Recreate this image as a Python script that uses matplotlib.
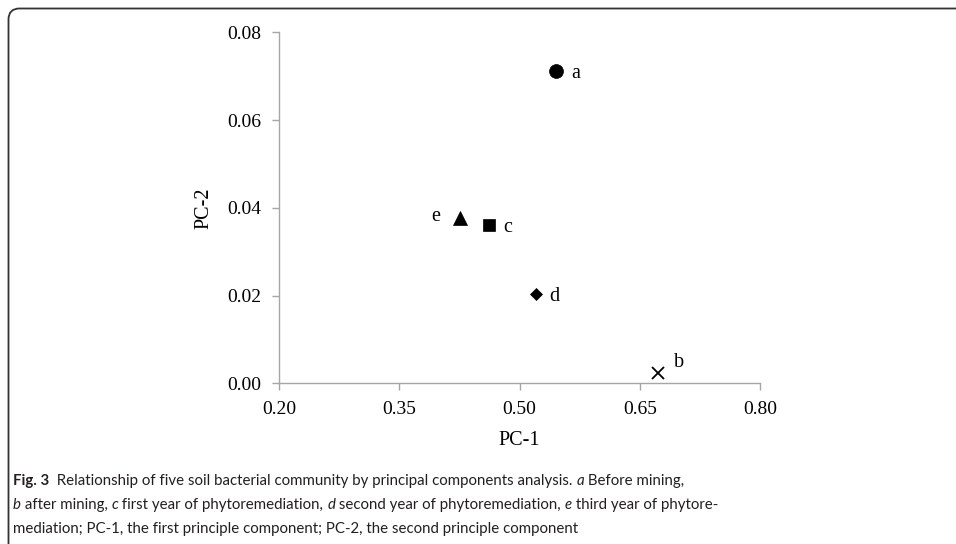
import matplotlib
matplotlib.use("Agg")
import matplotlib.pyplot as plt
from matplotlib.patches import FancyBboxPatch
from matplotlib.transforms import IdentityTransform

# data
labels = ["a", "b", "c", "d", "e"]
pc1 = [0.545, 0.673, 0.462, 0.520, 0.425]
pc2 = [0.0712, 0.0023, 0.0361, 0.0204, 0.0377]

x_ticks = [0.20, 0.35, 0.50, 0.65, 0.80]
y_ticks = [0.00, 0.02, 0.04, 0.06, 0.08]

# marker style per sample
mk = {"a": ("o", 10), "b": ("x", 9), "c": ("s", 8.5), "d": ("D", 6.5), "e": ("^", 9.5)}
# label offsets in points (dx, dy, ha)
offs = {"a": (11, -2, "left"), "b": (11, 8, "left"), "c": (10, -2, "left"),
        "d": (10, -2, "left"), "e": (-14, 1, "right")}

W, H = 956, 544
fig = plt.figure(figsize=(W / 100, H / 100), dpi=100)
ax = fig.add_axes([279.3 / W, (H - 383.3) / H, (760 - 279.3) / W, (383.3 - 32.3) / H])

serif = "Liberation Serif"
for lab, x, y in zip(labels, pc1, pc2):
    m, s = mk[lab]
    ax.plot(x, y, marker=m, ms=s, color="black", mew=1.3 if m == "x" else 0.5,
            linestyle="none", clip_on=False)
    dx, dy, ha = offs[lab]
    ax.annotate(lab, (x, y), xytext=(dx, dy), textcoords="offset points",
                ha=ha, va="center", fontsize=14.5, family=serif)

ax.set_xlim(0.20, 0.80)
ax.set_ylim(0.0, 0.08)
ax.set_xticks(x_ticks)
ax.set_yticks(y_ticks)
ax.set_xticklabels([f"{v:.2f}" for v in x_ticks], family=serif, fontsize=14)
ax.set_yticklabels([f"{v:.2f}" for v in y_ticks], family=serif, fontsize=14)
for sp in ["top", "right"]:
    ax.spines[sp].set_visible(False)
for sp in ["left", "bottom"]:
    ax.spines[sp].set_color("#a6a6a6")
    ax.spines[sp].set_linewidth(1.0)
ax.tick_params(axis="both", colors="#a6a6a6", length=5, width=1.0, labelcolor="black")
ax.tick_params(axis="x", pad=8)
ax.tick_params(axis="y", pad=8)
ax.set_xlabel("PC-1", family=serif, fontsize=14.5, labelpad=9)
ax.set_ylabel("PC-2", family=serif, fontsize=14.5, labelpad=10)

# frame round the figure
frame = FancyBboxPatch((8.5, -20), 1100, H - 8.5 + 20, boxstyle="round,pad=0,rounding_size=11",
                       transform=IdentityTransform(), fill=False, edgecolor="#333333",
                       linewidth=1.3, figure=fig)
fig.patches.append(frame)

# caption, written piece by piece
sans = "Lato"
cap_size = 10.85
lines = [
    [("Fig. 3", "bold"), ("  Relationship of five soil bacterial community by principal components analysis. ", "normal"),
     ("a", "italic"), (" Before mining,", "normal")],
    [("b", "italic"), (" after mining, ", "normal"), ("c", "italic"), (" first year of phytoremediation, ", "normal"),
     ("d", "italic"), (" second year of phytoremediation, ", "normal"), ("e", "italic"),
     (" third year of phytore-", "normal")],
    [("mediation; PC-1, the first principle component; PC-2, the second principle component", "normal")],
]
line_y = [H - 485, H - 509, H - 533]
renderer = fig.canvas.get_renderer()
for parts, yy in zip(lines, line_y):
    xx = 13
    for txt, st in parts:
        t = fig.text(xx, yy, txt, transform=IdentityTransform(), family=sans, fontsize=cap_size,
                     weight="bold" if st == "bold" else "normal",
                     style="italic" if st == "italic" else "normal", va="baseline", color="#231f20")
        xx = t.get_window_extent(renderer).x1

fig.savefig("out.png", dpi=100)
